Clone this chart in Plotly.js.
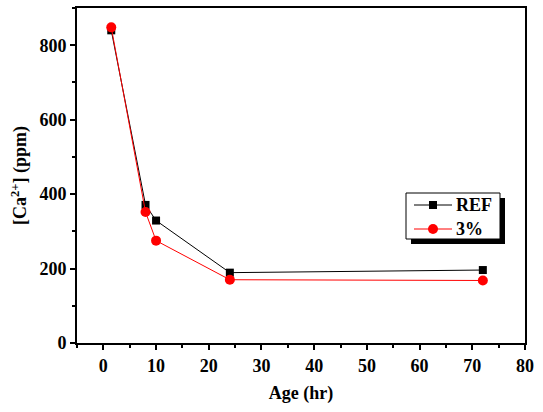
<!DOCTYPE html>
<html>
<head>
<meta charset="utf-8">
<script src="https://cdn.plot.ly/plotly-3.0.1.min.js"></script>
<style>html,body{margin:0;padding:0;background:#fff;}#chart{width:543px;height:412px;}</style>
</head>
<body>
<div id="chart"></div>
<script>
// Calcium concentration over curing age
const ageHours = [1.5, 8, 10, 24, 72];
const caRef = [840, 371, 329, 189, 196];
const ca3pct = [848, 352, 275, 170, 168];
const seriesNames = ['REF', '3%'];
const seriesColors = ['#000000', '#ff0000'];

const FAMILY = 'Liberation Serif';
const bold = size => ({family: FAMILY, size: size, color: '#000', weight: 'bold'});

const traces = [
  {x: ageHours, y: caRef, name: seriesNames[0], mode: 'lines+markers', type: 'scatter',
   line: {color: seriesColors[0], width: 1}, marker: {symbol: 'square', size: 8, color: seriesColors[0]}},
  {x: ageHours, y: ca3pct, name: seriesNames[1], mode: 'lines+markers', type: 'scatter',
   line: {color: seriesColors[1], width: 1}, marker: {symbol: 'circle', size: 10, color: seriesColors[1]}}
];

const L = 77, R = 18, T = 8, B = 69, W = 543, H = 412;
const pw = W - L - R, ph = H - T - B;
const px = v => (v - L) / pw;
const py = v => (H - B - v) / ph;

function axis(extra) {
  return Object.assign({
    showline: true, linecolor: '#000', linewidth: 2, mirror: true,
    ticks: 'outside', ticklen: 5, tickwidth: 2, tickcolor: '#000',
    showgrid: false, zeroline: false, tickfont: bold(18)
  }, extra);
}

// Boxed legend with drop shadow, drawn in paper space
const legendBox = {left: 406, right: 500, top: 193, bottom: 239, shadow: 5};
const legendRows = [205, 229];
const sampleX = [414, 452], markX = 433, textX = 455;

const shapes = [
  {type: 'rect', xref: 'paper', yref: 'paper', layer: 'above',
   x0: px(legendBox.left + legendBox.shadow), x1: px(legendBox.right + legendBox.shadow),
   y0: py(legendBox.bottom + legendBox.shadow), y1: py(legendBox.top + legendBox.shadow),
   fillcolor: '#000', line: {width: 0}},
  {type: 'rect', xref: 'paper', yref: 'paper', layer: 'above',
   x0: px(legendBox.left), x1: px(legendBox.right), y0: py(legendBox.bottom), y1: py(legendBox.top),
   fillcolor: '#fff', line: {color: '#000', width: 1}}
];
const annotations = [];
seriesNames.forEach((name, i) => {
  const yr = py(legendRows[i]);
  shapes.push({type: 'line', xref: 'paper', yref: 'paper', layer: 'above',
    x0: px(sampleX[0]), x1: px(sampleX[1]), y0: yr, y1: yr, line: {color: seriesColors[i], width: 1}});
  const half = i === 0 ? 4 : 5;
  shapes.push({type: i === 0 ? 'rect' : 'circle', xref: 'paper', yref: 'paper', layer: 'above',
    xsizemode: 'pixel', ysizemode: 'pixel', xanchor: px(markX), yanchor: yr,
    x0: -half, x1: half, y0: -half, y1: half,
    fillcolor: seriesColors[i], line: {width: 0}});
  annotations.push({xref: 'paper', yref: 'paper', x: px(textX), y: yr, xanchor: 'left', yanchor: 'middle',
    showarrow: false, borderpad: 0, text: name, font: bold(18)});
});

const layout = {
  width: W, height: H,
  margin: {l: L, r: R, t: T, b: B},
  paper_bgcolor: '#fff', plot_bgcolor: '#fff',
  font: {family: FAMILY, size: 18, color: '#000'},
  showlegend: false,
  xaxis: axis({
    range: [-5, 80], tickvals: [0, 10, 20, 30, 40, 50, 60, 70, 80],
    minor: {dtick: 5, tick0: 0, ticks: 'outside', ticklen: 3, tickwidth: 2, tickcolor: '#000'},
    title: {text: 'Age (hr)', font: bold(18), standoff: 12}
  }),
  yaxis: axis({
    range: [0, 900], tickvals: [0, 200, 400, 600, 800],
    minor: {dtick: 100, tick0: 0, ticks: 'outside', ticklen: 3, tickwidth: 2, tickcolor: '#000'},
    title: {text: '[Ca<sup>2+</sup>] (ppm)', font: bold(18), standoff: 8}
  }),
  shapes: shapes,
  annotations: annotations
};

Plotly.newPlot('chart', traces, layout, {displayModeBar: false, staticPlot: true});
</script>
</body>
</html>
